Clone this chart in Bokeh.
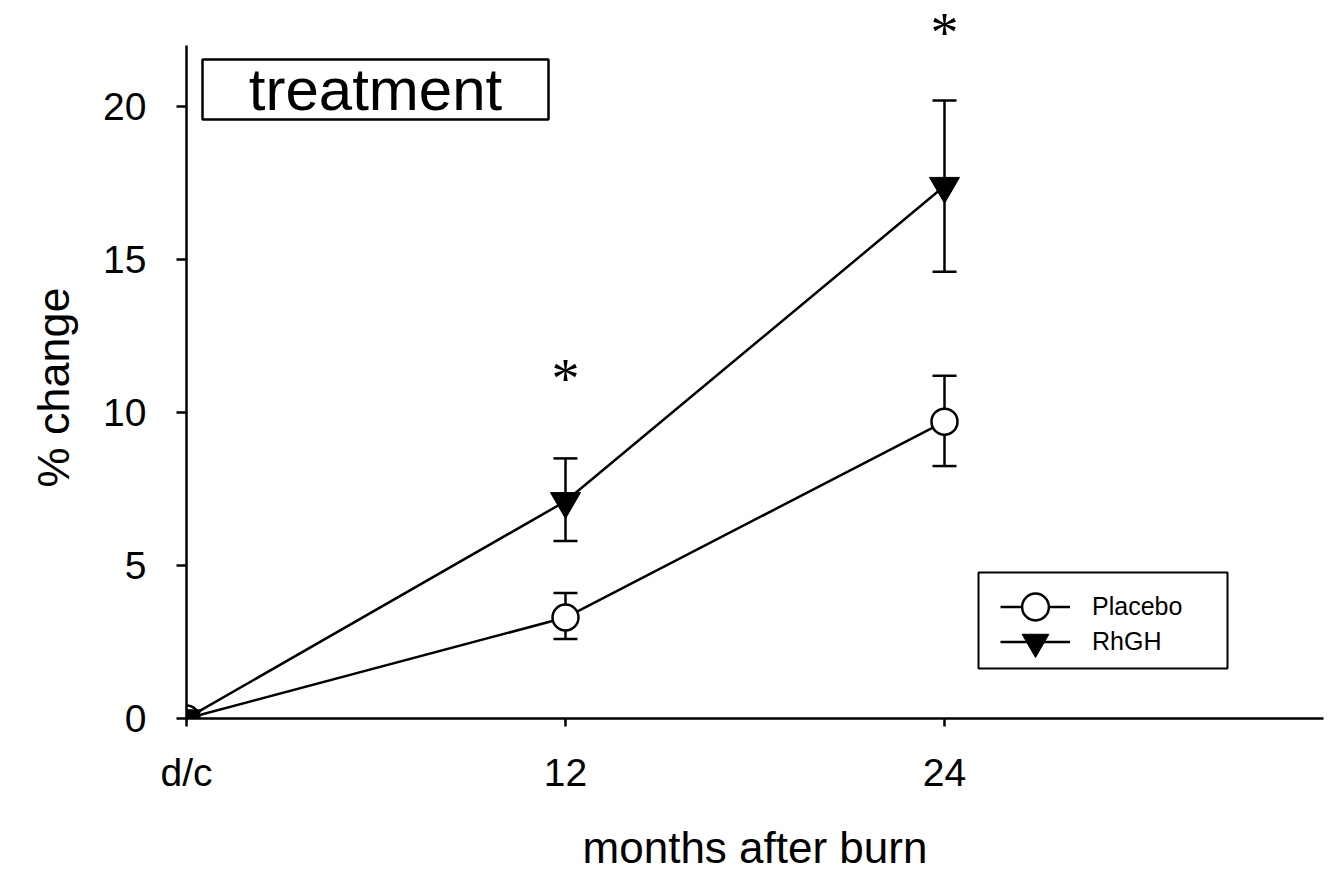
from bokeh.plotting import figure
from bokeh.models import (ColumnDataSource, Whisker, TeeHead, Label, LabelSet,
                          Legend, LegendItem, FixedTicker, Range1d, BoxAnnotation, Title)
from bokeh.embed import file_html
from bokeh.resources import INLINE

# ---- data ----
months = [0, 12, 24]
tick_labels = {0: "d/c", 12: "12", 24: "24"}
y_ticks = [0, 5, 10, 15, 20]
placebo = [0, 3.3, 9.7]
placebo_lo = [0, 2.6, 8.25]
placebo_hi = [0, 4.1, 11.2]
rhgh = [0, 7.1, 17.4]
rhgh_lo = [0, 5.8, 14.6]
rhgh_hi = [0, 8.5, 20.2]
star_x = [12, 24]
star_y = [11.4, 22.7]
stars = ["*", "*"]

FONT = "Liberation Sans"
LW = 2.5

# frame: x 186..1323, y 0 at 718, 22 at 45 (extended above for the star)
p = figure(width=1333, height=876, output_backend="svg", toolbar_location=None,
           x_range=Range1d(0, 36), y_range=Range1d(0, 710 / 30.6),
           min_border_left=186, min_border_right=10, min_border_top=8,
           min_border_bottom=158)
p.outline_line_color = None
p.xgrid.visible = False
p.ygrid.visible = False
p.background_fill_color = "white"
p.border_fill_color = "white"

for ax in (p.xaxis[0], p.yaxis[0]):
    ax.axis_line_width = LW
    ax.axis_line_color = "black"
    ax.major_tick_line_width = LW
    ax.major_tick_line_color = "black"
    ax.major_tick_in = 0
    ax.minor_tick_line_color = None
    ax.major_label_text_font = FONT
    ax.major_label_text_font_size = "39px"
    ax.major_label_text_color = "black"
    ax.axis_label_text_font = FONT
    ax.axis_label_text_font_style = "normal"
    ax.axis_label_text_color = "black"

p.xaxis.ticker = FixedTicker(ticks=months)
p.xaxis.major_label_overrides = tick_labels
p.xaxis.major_tick_out = 8
p.xaxis.major_label_standoff = 24
p.xaxis.axis_label = "months after burn"
p.xaxis.axis_label_text_font_size = "44px"
p.xaxis.axis_label_standoff = 26

p.yaxis.ticker = FixedTicker(ticks=y_ticks)
p.yaxis.bounds = (0, 22)
p.yaxis.major_tick_out = 10
p.yaxis.major_label_standoff = 30

# y-axis title, placed along the drawn axis (0..22) rather than the taller frame
p.add_layout(Title(text="% change", align="left", offset=231, standoff=44,
                   text_font=FONT, text_font_size="45px", text_font_style="normal",
                   text_color="black"), "left")

src = ColumnDataSource(dict(x=months, placebo=placebo, rhgh=rhgh))
err = ColumnDataSource(dict(x=months[1:], plo=placebo_lo[1:], phi=placebo_hi[1:],
                            rlo=rhgh_lo[1:], rhi=rhgh_hi[1:]))

for lo, hi in (("plo", "phi"), ("rlo", "rhi")):
    w = Whisker(source=err, base="x", lower=lo, upper=hi, line_width=LW, line_color="black",
                upper_head=TeeHead(size=24, line_width=LW, line_color="black"),
                lower_head=TeeHead(size=24, line_width=LW, line_color="black"))
    p.add_layout(w)

pl_line = p.line("x", "placebo", source=src, line_width=LW, line_color="black")
pl_mark = p.scatter("x", "placebo", source=src, marker="circle", size=26,
                    fill_color="white", line_color="black", line_width=LW)
rh_line = p.line("x", "rhgh", source=src, line_width=LW, line_color="black")
rh_mark = p.scatter("x", "rhgh", source=src, marker="inverted_triangle", size=30,
                    fill_color="black", line_color="black", line_width=1)

# significance stars
ssrc = ColumnDataSource(dict(x=star_x, y=star_y, t=stars))
p.add_layout(LabelSet(x="x", y="y", text="t", source=ssrc, text_align="center",
                      text_baseline="middle", text_font="Liberation Serif",
                      text_font_size="56px", text_color="black", y_offset=-9))

# treatment box
p.add_layout(BoxAnnotation(left=16, right=362, bottom=599, top=659,
                           left_units="screen", right_units="screen",
                           bottom_units="screen", top_units="screen",
                           fill_color="white", fill_alpha=1,
                           line_color="black", line_width=LW, line_alpha=1))
p.add_layout(Label(x=189, y=629, x_units="screen", y_units="screen", text="treatment",
                   text_align="center", text_baseline="middle", text_font=FONT,
                   text_font_size="60px", text_color="black"))

# legend box + one legend per row (large glyph area -> full-size markers)
p.add_layout(BoxAnnotation(left=792, right=1041, bottom=50, top=146,
                           left_units="screen", right_units="screen",
                           bottom_units="screen", top_units="screen",
                           fill_color="white", fill_alpha=1,
                           line_color="black", line_width=2, line_alpha=1))
legend_items = [("Placebo", [pl_line, pl_mark], (814, 78)),
                ("RhGH", [rh_line, rh_mark], (814, 43))]
for lab, rends, loc in legend_items:
    lg = Legend(items=[LegendItem(label=lab, renderers=rends)],
                location=loc, orientation="vertical",
                glyph_width=70, glyph_height=67, label_height=67,
                label_standoff=22, spacing=0, padding=0, margin=0,
                label_text_font=FONT, label_text_font_size="25px",
                label_text_color="black",
                border_line_color=None, background_fill_alpha=0)
    p.add_layout(lg, "center")

open("out.html", "w").write(file_html(p, INLINE))
